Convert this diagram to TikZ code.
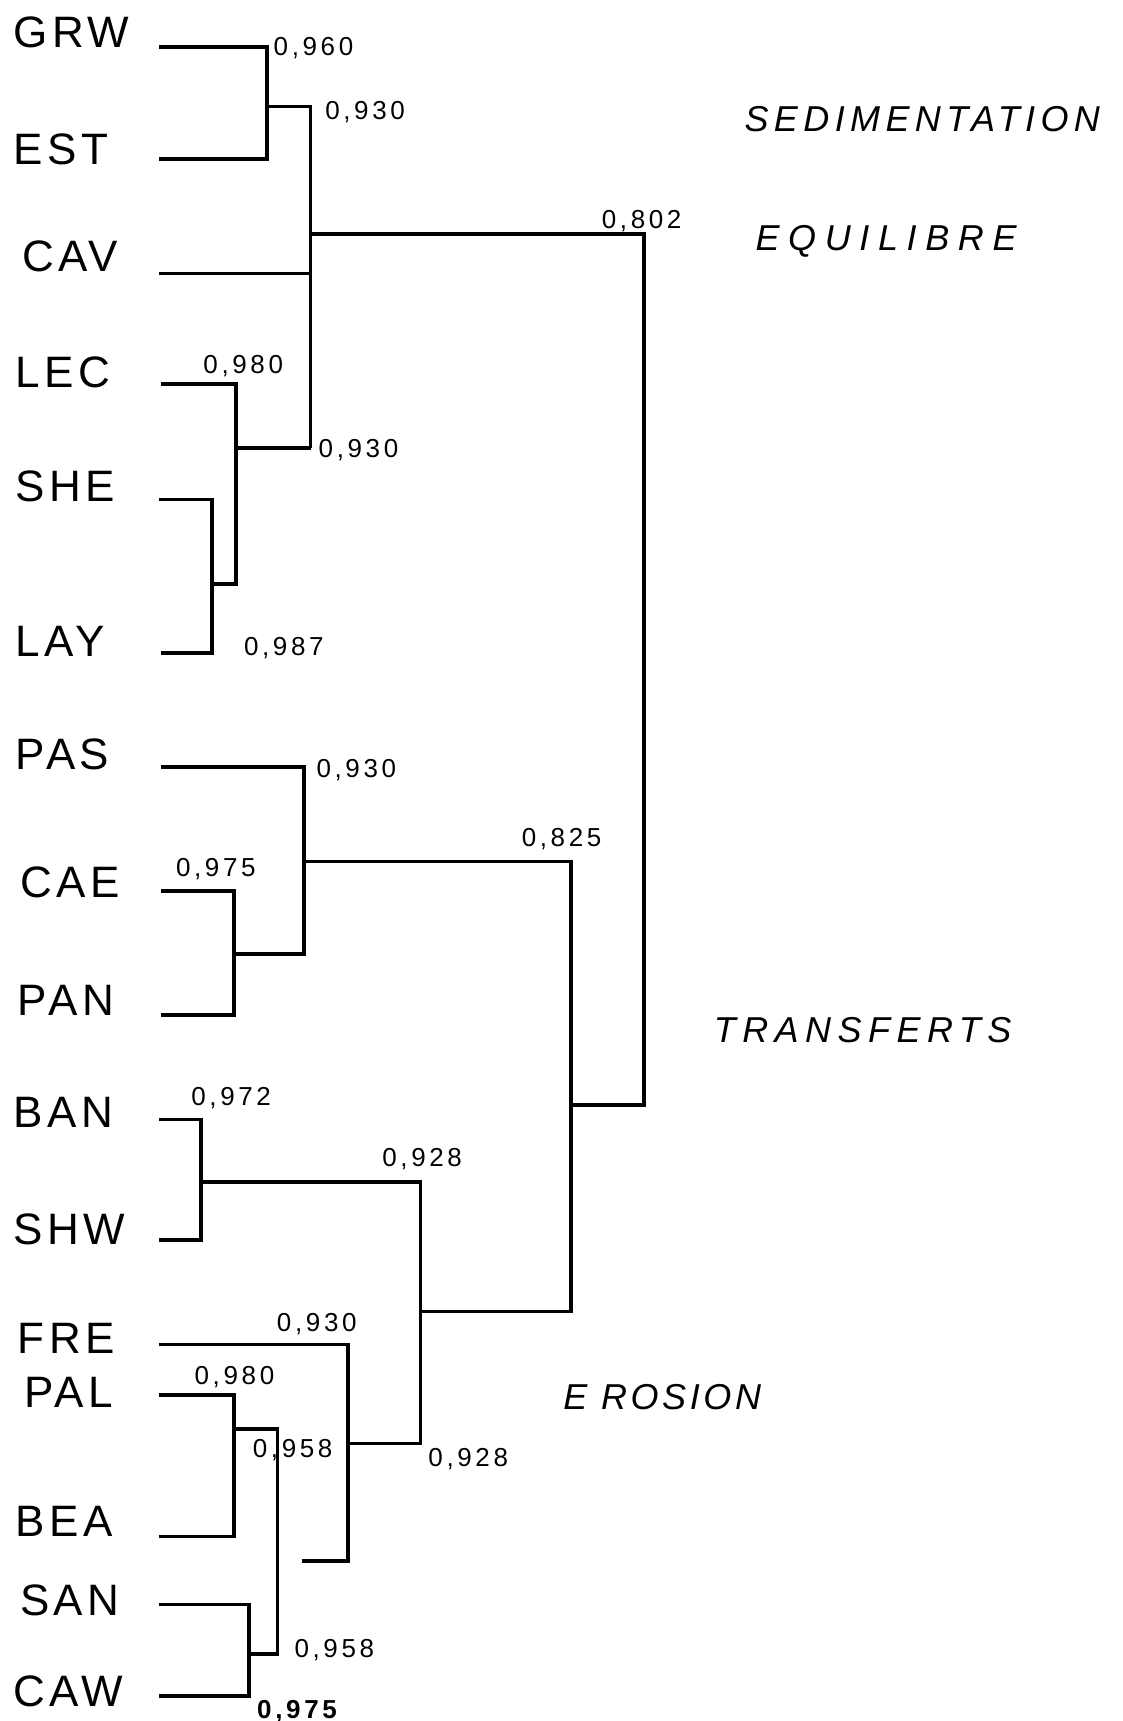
\documentclass[tikz,border=0pt]{standalone}
\usepackage{fontspec}
\setmainfont{Liberation Sans}
\newfontfamily\sitefont[LetterSpace=10]{Liberation Sans}
\newfontfamily\valfont[LetterSpace=14]{Liberation Sans}
\begin{document}
\begin{tikzpicture}[x=0.5489pt,y=-0.5489pt,
  branch/.style={draw, line width=1.8pt, line join=miter},
  site/.style={anchor=base west, inner sep=0pt, font=\sitefont\fontsize{22}{22}\selectfont},
  val/.style={anchor=base west, inner sep=0pt, font=\valfont\fontsize{13}{13}\selectfont},
  zone/.style={anchor=base west, inner sep=0pt, font=\fontsize{18}{18}\selectfont\itshape}]
\fill[white] (0,0) rectangle (1023,1568);
\path[use as bounding box] (0,0) rectangle (1023,1568);

% site labels
\node[site] (GRW) at (12,43) {GRW};
\node[site] (EST) at (12,150) {EST};
\node[site] (CAV) at (20,247) {CAV};
\node[site] (LEC) at (14,353) {LEC};
\node[site] (SHE) at (14,457) {SHE};
\node[site] (LAY) at (14,598) {LAY};
\node[site] (PAS) at (14,701) {PAS};
\node[site] (CAE) at (18,818) {CAE};
\node[site] (PAN) at (16,925) {PAN};
\node[site] (BAN) at (12,1027) {BAN};
\node[site] (SHW) at (12,1134) {SHW};
\node[site] (FRE) at (16,1233) {FRE};
\node[site] (PAL) at (22,1282) {PAL};
\node[site] (BEA) at (14,1400) {BEA};
\node[site] (SAN) at (18,1472) {SAN};
\node[site] (CAW) at (12,1555) {CAW};

% leaf line starts
\coordinate (lGRW) at (145,43);
\coordinate (lEST) at (145,145);
\coordinate (lCAV) at (145,249);
\coordinate (lLEC) at (147,350);
\coordinate (lSHE) at (145,455);
\coordinate (lLAY) at (147,595);
\coordinate (lPAS) at (147,699);
\coordinate (lCAE) at (147,812);
\coordinate (lPAN) at (147,925);
\coordinate (lBAN) at (145,1020);
\coordinate (lSHW) at (145,1130);
\coordinate (lFRE) at (145,1225);
\coordinate (lPAL) at (145,1271);
\coordinate (lBEA) at (145,1400);
\coordinate (lSAN) at (145,1462);
\coordinate (lCAW) at (145,1545);
\coordinate (stub) at (275,1422);

% junctions
\coordinate (j960) at (243,97);
\coordinate (j930a) at (283,97);
\coordinate (j930b) at (283,408);
\coordinate (j930o) at (283,213);
\coordinate (j980a) at (215,408);
\coordinate (j987) at (193,532);
\coordinate (j802) at (587,213);
\coordinate (j802b) at (587,1007);
\coordinate (j825) at (520,785);
\coordinate (j825b) at (520,1195);
\coordinate (j825m) at (520,1007);
\coordinate (j930p) at (277,785);
\coordinate (j975a) at (213,869);
\coordinate (j972) at (183,1077);
\coordinate (j928a) at (383,1077);
\coordinate (j928b) at (383,1315);
\coordinate (j928o) at (383,1195);
\coordinate (j930f) at (317,1315);
\coordinate (j980b) at (213,1302);
\coordinate (j958a) at (253,1302);
\coordinate (j958b) at (253,1507);
\coordinate (j975b) at (227,1507);

% GRW / EST
\path[branch] (lGRW) -| (j960) |- (lEST);
\path[branch] (j960) -- (j930a) -- (j930b);
\path[branch] (lCAV) -- (lCAV -| j930a);
\path[branch] (j930o) -| (j802) -- (j802b) -- (j825m);
% LEC / SHE / LAY
\path[branch] (lLEC) -| (j980a) -- (j980a |- j987) -- (j987);
\path[branch] (j980a) -- (j930b);
\path[branch] (lSHE) -| (j987) |- (lLAY);
% PAS / CAE / PAN
\path[branch] (lPAS) -| (j930p) |- (j975a);
\path[branch] (lCAE) -| (j975a) |- (lPAN);
\path[branch] (j930p) -- (j825) -- (j825b) -- (j928o);
% BAN / SHW
\path[branch] (lBAN) -| (j972) |- (lSHW);
\path[branch] (j972) -- (j928a) -- (j928b) -- (j930f);
% FRE
\path[branch] (lFRE) -| (j930f) |- (stub);
% PAL / BEA
\path[branch] (lPAL) -| (j980b) |- (lBEA);
\path[branch] (j980b) -- (j958a) -- (j958b) -- (j975b);
% SAN / CAW
\path[branch] (lSAN) -| (j975b) |- (lCAW);

% values
\node[val] (v960) at (249,51) {0,960};
\node[val] (v930a) at (296,109) {0,930};
\node[val] (v802) at (548,208) {0,802};
\node[val] (v980a) at (185,340) {0,980};
\node[val] (v930b) at (290,417) {0,930};
\node[val] (v987) at (222,597) {0,987};
\node[val] (v930p) at (288,708) {0,930};
\node[val] (v825) at (475,771) {0,825};
\node[val] (v975a) at (160,799) {0,975};
\node[val] (v972) at (174,1007) {0,972};
\node[val] (v928a) at (348,1063) {0,928};
\node[val] (v930f) at (252,1213) {0,930};
\node[val] (v980b) at (177,1261) {0,980};
\node[val] (v958a) at (230,1328) {0,958};
\node[val] (v928b) at (390,1336) {0,928};
\node[val] (v958b) at (268,1510) {0,958};
\node[val, font=\valfont\fontsize{13}{13}\selectfont\bfseries] (v975b) at (234,1566) {0,975};

% zones
\node[zone, font=\fontsize{18}{18}\selectfont\itshape\addfontfeatures{LetterSpace=15}] (sed) at (678,120) {SEDIMENTATION};
\node[zone, font=\fontsize{18}{18}\selectfont\itshape\addfontfeatures{LetterSpace=24}] (equ) at (688,228) {EQUILIBRE};
\node[zone, font=\fontsize{18}{18}\selectfont\itshape\addfontfeatures{LetterSpace=18}] (tra) at (650,950) {TRANSFERTS};
\node[zone, font=\fontsize{18}{18}\selectfont\itshape\addfontfeatures{LetterSpace=10}] (ero) at (513,1284) {E ROSION};
\end{tikzpicture}
\end{document}
